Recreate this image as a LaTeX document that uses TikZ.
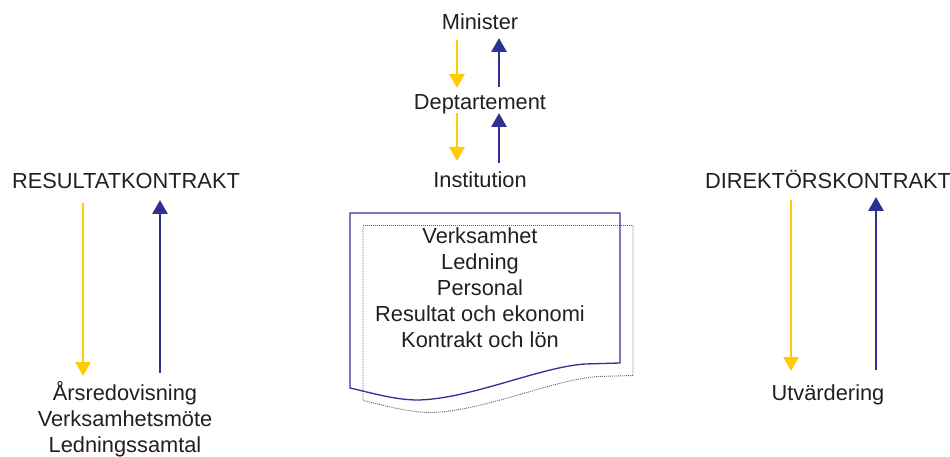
\documentclass[tikz,border=0pt]{standalone}
\usepackage{fontspec}
\setmainfont{Liberation Sans}
\usetikzlibrary{arrows.meta}
\definecolor{txt}{HTML}{231F20}
\definecolor{yel}{HTML}{FFCC00}
\definecolor{nav}{HTML}{2E3192}
\begin{document}
\begin{tikzpicture}[x=1pt,y=-1pt,
  lbl/.style={anchor=base,inner sep=0pt,text=txt,font=\fontsize{21.8pt}{26pt}\selectfont},
  down/.style={draw=yel,line width=2.8pt,-{Triangle[width=15pt,length=14pt]}},
  up/.style={draw=nav,line width=2.8pt,-{Triangle[width=15pt,length=14pt]}},
  docline/.style={draw=nav,line width=1.3pt},
  docshadow/.style={draw=black!60,line width=0.9pt,dash pattern=on 1pt off 1pt}]
\useasboundingbox (0,0) rectangle (950,457);
% document shape
\begin{scope}[shift={(13,12.5)}]
\draw[docshadow] (350,213) -- (620,213) -- (620,363) -- (585,364)
  .. controls (540,367) and (470,399) .. (418,400)
  .. controls (395,400) and (372,393) .. (350,388) -- cycle;
\end{scope}
\draw[docline] (350,213) -- (620,213) -- (620,363) -- (585,364)
  .. controls (540,367) and (470,399) .. (418,400)
  .. controls (395,400) and (372,393) .. (350,388) -- cycle;
% center texts
\node[lbl] (min) at (480,30) {Minister};
\node[lbl] (dep) at (480,110) {Deptartement};
\node[lbl] (inst) at (480,188) {Institution};
\node[lbl] (d1) at (480,243) {Verksamhet};
\node[lbl] (d2) at (480,269) {Ledning};
\node[lbl] (d3) at (480,295) {Personal};
\node[lbl] (d4) at (480,321) {Resultat och ekonomi};
\node[lbl] (d5) at (480,347) {Kontrakt och lön};
% left
\node[lbl] (rk) at (126,189) {RESULTATKONTRAKT};
\node[lbl] (l1) at (125,400) {Årsredovisning};
\node[lbl] (l2) at (125,426) {Verksamhetsmöte};
\node[lbl] (l3) at (125,452) {Ledningssamtal};
% right
\node[lbl] (dk) at (828,189) {DIREKTÖRSKONTRAKT};
\node[lbl] (r1) at (828,400) {Utvärdering};
% arrow end points
\coordinate (a1s) at (457,40);  \coordinate (a1e) at (457,88);
\coordinate (b1s) at (499,87);  \coordinate (b1e) at (499,38);
\coordinate (a2s) at (457,113); \coordinate (a2e) at (457,161);
\coordinate (b2s) at (499,163); \coordinate (b2e) at (499,113);
\coordinate (a3s) at (83,203);  \coordinate (a3e) at (83,376);
\coordinate (b3s) at (160,373); \coordinate (b3e) at (160,200);
\coordinate (a4s) at (791,200); \coordinate (a4e) at (791,371);
\coordinate (b4s) at (876,370); \coordinate (b4e) at (876,197);
\draw[down] (a1s) -- (a1e);
\draw[up] (b1s) -- (b1e);
\draw[down] (a2s) -- (a2e);
\draw[up] (b2s) -- (b2e);
\draw[down] (a3s) -- (a3e);
\draw[up] (b3s) -- (b3e);
\draw[down] (a4s) -- (a4e);
\draw[up] (b4s) -- (b4e);
\end{tikzpicture}
\end{document}
